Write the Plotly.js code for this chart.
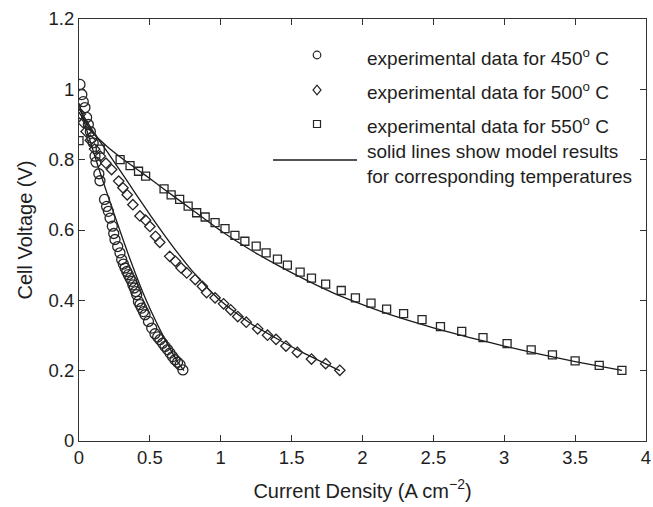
<!DOCTYPE html>
<html>
<head>
<meta charset="utf-8">
<script src="https://cdn.plot.ly/plotly-3.0.1.min.js"></script>
<style>html,body{margin:0;padding:0;background:#fff;}#chart{width:653px;height:507px;}</style>
</head>
<body>
<div id="chart"></div>
<script>
// Experimental data, 450 C (circles)
var x450 = [0.007,0.02,0.03,0.042,0.054,0.066,0.08,0.09,0.10,0.113,0.12,0.14,0.148,0.18,0.195,0.207,0.219,0.235,0.245,0.254,0.273,0.289,0.301,0.313,0.325,0.337,0.348,0.36,0.372,0.38,0.39,0.40,0.407,0.419,0.43,0.442,0.455,0.466,0.49,0.513,0.536,0.555,0.571,0.59,0.607,0.625,0.642,0.66,0.677,0.695,0.713,0.733];
var y450 = [1.014,0.985,0.965,0.948,0.92,0.90,0.88,0.862,0.848,0.81,0.793,0.76,0.74,0.687,0.667,0.653,0.634,0.611,0.59,0.573,0.553,0.535,0.516,0.503,0.492,0.482,0.473,0.463,0.454,0.444,0.435,0.425,0.416,0.397,0.388,0.378,0.368,0.359,0.34,0.321,0.305,0.296,0.288,0.278,0.269,0.26,0.25,0.24,0.231,0.224,0.217,0.202];
// Experimental data, 500 C (diamonds)
var x500 = [0.01,0.03,0.05,0.08,0.11,0.15,0.19,0.23,0.28,0.31,0.34,0.38,0.43,0.47,0.50,0.54,0.57,0.64,0.68,0.72,0.76,0.82,0.87,0.90,0.96,1.02,1.07,1.12,1.18,1.26,1.33,1.39,1.46,1.54,1.64,1.74,1.84];
var y500 = [0.93,0.905,0.88,0.855,0.83,0.81,0.79,0.772,0.739,0.72,0.70,0.672,0.64,0.628,0.61,0.582,0.565,0.525,0.511,0.492,0.478,0.459,0.44,0.422,0.407,0.39,0.373,0.354,0.338,0.319,0.301,0.289,0.27,0.252,0.233,0.22,0.201];
// Experimental data, 550 C (squares)
var x550 = [0,0.15,0.29,0.36,0.42,0.47,0.60,0.65,0.71,0.77,0.83,0.89,0.96,1.03,1.10,1.17,1.25,1.32,1.40,1.47,1.56,1.64,1.74,1.85,1.95,2.06,2.17,2.29,2.42,2.55,2.70,2.85,3.02,3.19,3.34,3.50,3.67,3.83];
var y550 = [0.854,0.83,0.80,0.783,0.767,0.753,0.717,0.70,0.687,0.668,0.649,0.637,0.621,0.604,0.585,0.568,0.554,0.535,0.517,0.50,0.48,0.463,0.446,0.428,0.407,0.392,0.375,0.362,0.345,0.325,0.312,0.294,0.277,0.259,0.245,0.228,0.215,0.201];
// Model curves
var m450x = [0,0.05,0.1,0.15,0.2,0.25,0.3,0.35,0.4,0.45,0.5,0.55,0.6,0.65,0.7,0.74];
var m450y = [0.96,0.89,0.825,0.762,0.702,0.643,0.585,0.528,0.474,0.423,0.377,0.334,0.294,0.257,0.223,0.20];
var m500x = [0,0.1,0.2,0.3,0.4,0.5,0.6,0.7,0.8,0.9,1.0,1.2,1.4,1.6,1.84];
var m500y = [0.945,0.88,0.822,0.763,0.703,0.644,0.587,0.533,0.483,0.438,0.398,0.337,0.29,0.247,0.20];
var m550x = [0,0.1,0.2,0.3,0.45,0.6,0.8,1.0,1.2,1.4,1.6,1.8,2.0,2.25,2.5,2.75,3.0,3.25,3.5,3.83];
var m550y = [0.935,0.875,0.837,0.805,0.761,0.716,0.657,0.598,0.546,0.5,0.458,0.42,0.388,0.352,0.322,0.295,0.27,0.247,0.226,0.201];

var legendLabels = ["experimental data for 450<sup>o</sup> C","experimental data for 500<sup>o</sup> C","experimental data for 550<sup>o</sup> C","solid lines show model results<br>for corresponding temperatures"];

var ink = '#262626';
var FONT = 'Liberation Sans, Arial, Helvetica, sans-serif';
var lineStyle = {color:'#1a1a1a', width:1.3, shape:'spline', smoothing:0.5};
var traces = [
  {x:m450x, y:m450y, mode:'lines', line:lineStyle, hoverinfo:'skip'},
  {x:m500x, y:m500y, mode:'lines', line:lineStyle, hoverinfo:'skip'},
  {x:m550x, y:m550y, mode:'lines', line:lineStyle, hoverinfo:'skip'},
  {x:x450, y:y450, mode:'markers', marker:{symbol:'circle-open', size:10, color:ink, line:{width:1.3, color:ink}}},
  {x:x500, y:y500, mode:'markers', marker:{symbol:'diamond-open', size:8, color:ink, line:{width:1.3, color:ink}}},
  {x:x550, y:y550, mode:'markers', marker:{symbol:'square-open', size:8, color:ink, line:{width:1.3, color:ink}}}
];

var PL = 79, PR = 646, PT = 19, PB = 441;
function px2x(p){ return (p-PL)/(PR-PL); }
function px2y(p){ return (PB-p)/(PB-PT); }

var legRowsY = [57, 91, 125, 164];
var annotations = legendLabels.map(function(t,i){
  return {xref:'paper', yref:'paper', x:px2x(365), y:px2y(legRowsY[i]), xanchor:'left', yanchor:'middle',
          text:t, showarrow:false, align:'left', font:{family:FONT, size:19, color:'#1e1e1e'}};
});

var mx = px2x(317);
var shapes = [
  {type:'circle', xref:'paper', yref:'paper', xsizemode:'pixel', ysizemode:'pixel', xanchor:mx, yanchor:px2y(55), x0:-3.8, x1:3.8, y0:-3.8, y1:3.8, line:{color:ink, width:1.2}},
  {type:'path', xref:'paper', yref:'paper', xsizemode:'pixel', ysizemode:'pixel', xanchor:mx, yanchor:px2y(90), path:'M0,-4.8 L4,0 L0,4.8 L-4,0 Z', line:{color:ink, width:1.2}},
  {type:'rect', xref:'paper', yref:'paper', xsizemode:'pixel', ysizemode:'pixel', xanchor:mx, yanchor:px2y(124), x0:-3.5, x1:3.5, y0:-3.5, y1:3.5, line:{color:ink, width:1.2}},
  {type:'line', xref:'paper', yref:'paper', x0:px2x(273), x1:px2x(357), y0:px2y(160), y1:px2y(160), line:{color:'#1a1a1a', width:1.3}}
];

var axisCommon = {showline:true, linecolor:'#333', linewidth:1, mirror:'ticks', ticks:'inside', ticklen:6, tickcolor:'#333', tickwidth:1,
  showgrid:false, zeroline:false, tickfont:{family:FONT, size:18.5, color:'#1e1e1e'}};

var layout = {
  width:653, height:507,
  margin:{l:PL, r:653-PR, t:PT, b:507-PB},
  paper_bgcolor:'#fff', plot_bgcolor:'#fff',
  showlegend:false,
  xaxis:Object.assign({}, axisCommon, {range:[0,4], tick0:0, dtick:0.5,
     title:{text:'Current Density (A cm<sup>\u22122</sup>)', font:{family:FONT, size:20, color:'#1e1e1e'}, standoff:16}}),
  yaxis:Object.assign({}, axisCommon, {range:[0,1.2], tick0:0, dtick:0.2,
     title:{text:'Cell Voltage (V)', font:{family:FONT, size:20, color:'#1e1e1e'}, standoff:10}}),
  annotations:annotations,
  shapes:shapes
};

Plotly.newPlot('chart', traces, layout, {displayModeBar:false, staticPlot:true});
</script>
</body>
</html>
